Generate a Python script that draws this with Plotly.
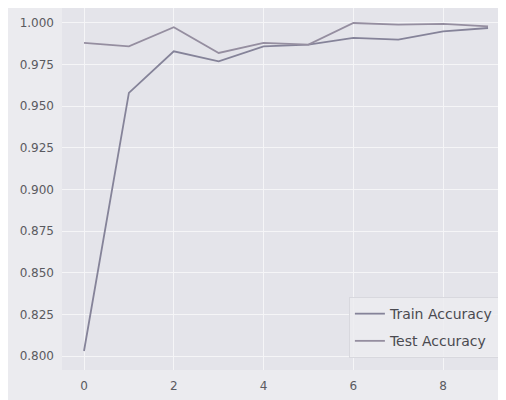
import plotly.graph_objects as go

epochs = list(range(10))
train_acc = [0.803, 0.958, 0.983, 0.977, 0.986, 0.987, 0.991, 0.990, 0.995, 0.997]
test_acc = [0.988, 0.986, 0.9975, 0.982, 0.988, 0.987, 1.000, 0.999, 0.9995, 0.998]
y_ticks = [0.800, 0.825, 0.850, 0.875, 0.900, 0.925, 0.950, 0.975, 1.000]
x_ticks = [0, 2, 4, 6, 8]

fig = go.Figure()
fig.add_trace(go.Scatter(x=epochs, y=train_acc, mode="lines", name="Train Accuracy",
                         legendgroup="a",
                         line=dict(color="#858399", width=1.8)))
fig.add_trace(go.Scatter(x=epochs, y=test_acc, mode="lines", name="Test Accuracy",
                         legendgroup="b",
                         line=dict(color="#958ea0", width=1.8)))

fig.update_layout(
    width=498, height=392,
    margin=dict(l=54, r=0, t=0, b=30),
    paper_bgcolor="#ebebef",
    plot_bgcolor="#e4e4ea",
    font=dict(family="DejaVu Sans", size=12, color="#5a5a60"),
    showlegend=True,
    legend=dict(x=0.984, y=0.033, xanchor="right", yanchor="bottom",
                bgcolor="rgba(236,236,240,0.85)", bordercolor="#d8d8de", borderwidth=1,
                tracegroupgap=6,
                font=dict(size=14, color="#4a4a50")),
)
fig.update_xaxes(range=[-0.49, 9.40], tickvals=x_ticks, ticktext=[str(v) for v in x_ticks],
                 showgrid=True, gridcolor="#f5f5f7", gridwidth=1, zeroline=False,
                 showline=False, ticks="", ticklabelstandoff=7)
fig.update_yaxes(range=[0.7916, 1.009], tickvals=y_ticks, ticktext=[f"{v:.3f}" for v in y_ticks],
                 showgrid=True, gridcolor="#f5f5f7", gridwidth=1, zeroline=False,
                 showline=False, ticks="", ticklabelstandoff=7)

fig.write_html("out.html")
